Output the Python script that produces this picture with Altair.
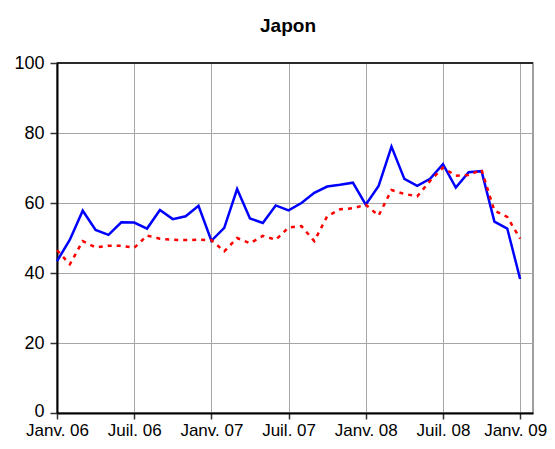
import altair as alt
import pandas as pd

title_text = "Japon"
tick_labels = ["Janv. 06", "Juil. 06", "Janv. 07", "Juil. 07", "Janv. 08", "Juil. 08", "Janv. 09"]
months = list(range(37))  # Jan 2006 .. Jan 2009, monthly

blue_values = [43.4, 49.5, 57.8, 52.3, 50.9, 54.5, 54.4, 52.7, 58.0, 55.4, 56.2, 59.2,
               49.2, 52.9, 64.0, 55.6, 54.3, 59.3, 57.9, 60.0, 62.9, 64.7, 65.2, 65.8,
               59.5, 64.9, 76.1, 66.9, 64.9, 66.9, 71.1, 64.4, 68.8, 69.1, 54.7, 52.7,
               38.3]
red_values = [46.5, 42.5, 49.1, 47.3, 47.8, 47.8, 47.2, 50.7, 49.8, 49.5, 49.4, 49.5,
              49.4, 46.2, 50.0, 48.5, 50.6, 49.5, 53.0, 53.4, 49.1, 56.2, 58.2, 58.5,
              59.5, 56.4, 63.7, 62.6, 61.9, 66.3, 70.1, 67.8, 68.0, 69.5, 57.8, 56.0,
              49.8]

df = pd.DataFrame({"m": months, "blue": blue_values, "red": red_values})

label_arr = "[" + ",".join("'" + t + "'" for t in tick_labels) + "]"

x_enc = alt.X("m:Q",
              scale=alt.Scale(domain=[0, 37], nice=False, zero=False),
              axis=alt.Axis(values=[0, 6, 12, 18, 24, 30, 36],
                            labelExpr=label_arr + "[round(datum.value/6)]",
                            labelOverlap=False, labelFlush=False,
                            labelOffset={"condition": {"test": "datum.value == 36", "value": -5}, "value": 0},
                            title=None, grid=True, gridColor="#a6a6a6", gridWidth=1,
                            domainColor="black", domainWidth=2,
                            tickColor="#333333", tickSize=6, tickWidth=1.5,
                            labelFont="Liberation Sans", labelFontSize=17,
                            labelColor="black", labelPadding=3))
y_axis = alt.Axis(values=[0, 20, 40, 60, 80, 100], title=None, grid=True,
                  gridColor="#a6a6a6", gridWidth=1,
                  domainColor="black", domainWidth=2,
                  tickColor="#333333", tickSize=7, tickWidth=1.5,
                  labelFont="Liberation Sans", labelFontSize=18,
                  labelOffset={"condition": {"test": "datum.value == 0", "value": -2}, "value": 0},
                  labelColor="black", labelPadding=6)
y_scale = alt.Scale(domain=[0, 100], nice=False)

base = alt.Chart(df)

blue_line = base.mark_line(color="#0000ff", strokeWidth=2.5).encode(
    x=x_enc, y=alt.Y("blue:Q", scale=y_scale, axis=y_axis))
red_line = base.mark_line(color="#ff0000", strokeWidth=2.5, strokeDash=[4, 5]).encode(
    x=x_enc, y=alt.Y("red:Q", scale=y_scale, axis=y_axis))

top_line = alt.Chart(pd.DataFrame({"v": [100]})).mark_rule(color="black", strokeWidth=1.5).encode(
    y=alt.Y("v:Q", scale=y_scale, axis=y_axis))

chart = alt.layer(blue_line, red_line, top_line).properties(
    width=476, height=350,
    title=alt.TitleParams(title_text, font="Liberation Sans", fontSize=19, fontWeight="bold",
                          color="black", anchor="middle", dx=-7, offset=18),
    autosize=alt.AutoSizeParams(type="none"),
    padding={"left": 49, "top": 55, "right": 14, "bottom": 28},
).configure_view(stroke="#808080", strokeWidth=1.5)

chart.save("out.html", embed_options={"renderer": "svg", "actions": False})
